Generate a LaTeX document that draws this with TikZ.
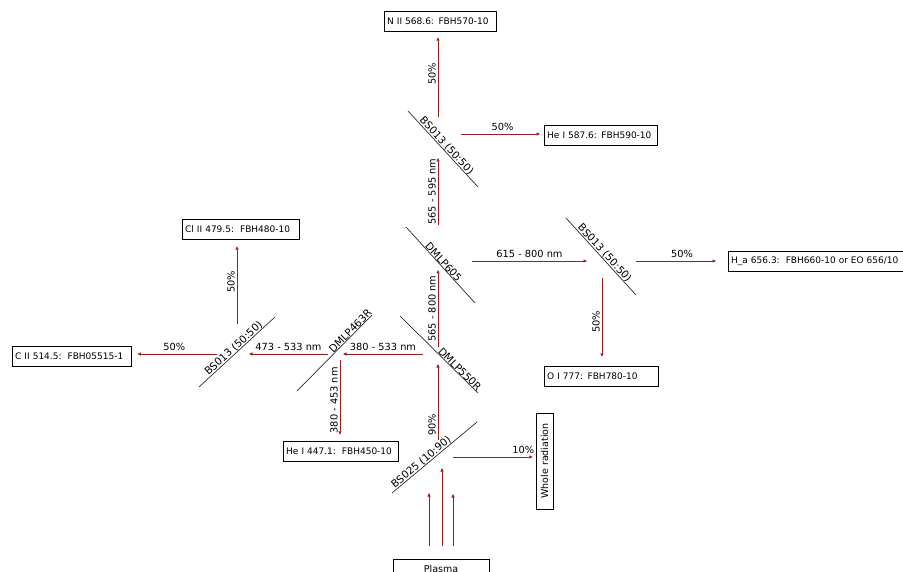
\documentclass[tikz,border=0pt]{standalone}
\usepackage{fontspec}
\setmainfont{DejaVu Sans}
\usetikzlibrary{arrows.meta, positioning}
\definecolor{raycol}{RGB}{150,30,30}
\definecolor{mirrorcol}{RGB}{45,45,45}

\begin{document}
\begin{tikzpicture}[x=1pt, y=-1pt,
        font=\fontsize{9.8}{12}\selectfont,
        filter/.style = {
            rectangle,
            draw,
            anchor=west,
            inner xsep=3pt,
            inner ysep=0pt,
            minimum height=20pt,
            align=left,
            font=\fontsize{9}{11}\selectfont,
            text width=#1
        },
        ray/.style = {
            ->,
            draw=raycol,
            line width=0.7pt,
            >={Triangle[length=3.5pt,width=3pt]}
        },
        mirror/.style = {draw=mirrorcol, line width=0.7pt},
        mlabel/.style = {sloped, above, inner sep=0pt, font=\fontsize{10.3}{12}\selectfont},
        hlabel/.style = {midway, above, inner sep=3pt},
        vlabel/.style = {midway, rotate=90, anchor=south, inner sep=2pt}]

        \useasboundingbox (0,0) rectangle (903,572);
        \clip (0,0) rectangle (903,572);

        % filters
        \node (n_ii) [filter=106pt] at (384,21) {N II 568.6: FBH570-10};
        \node (he_i_587) [filter=107pt] at (544,135) {He I 587.6: FBH590-10};
        \node (cl_ii) [filter=111pt] at (182,229) {Cl II 479.5:~~FBH480-10};
        \node (c_ii) [filter=113pt] at (12,356) {C II 514.5:~~FBH05515-1};
        \node (h_a) [filter=220pt] at (728,261) {H\_a 656.3:~~FBH660-10 or EO 656/10};
        \node (o_i) [filter=108pt] at (544,376) {O I 777: FBH780-10};
        \node (he_i_447) [filter=109pt] at (283,451) {He I 447.1:~~FBH450-10};
        \node (whole) [draw, rotate=90, minimum width=96pt, minimum height=17pt, inner sep=0pt, font=\fontsize{9.5}{11}\selectfont] at (544.5,461) {Whole radiation};
        \node (plasma) [draw, minimum width=96pt, minimum height=20pt, inner sep=0pt, font=\fontsize{9.5}{11}\selectfont] at (441,569) {Plasma};

        % mirrors
        \draw[mirror] (408,111) -- node[mlabel] {BS013 (50:50)} (478,187);
        \draw[mirror] (406,227) -- node[mlabel] {DMLP605} (475,303);
        \draw[mirror] (566,218) -- node[mlabel] {BS013 (50:50)} (636,295);
        \draw[mirror] (199,387) -- node[mlabel] {BS013 (50:50)} (275,317);
        \draw[mirror] (297,391) -- node[mlabel, pos=0.75] {DMLP463R} (372,315);
        \draw[mirror] (400,316) -- node[mlabel, pos=0.73] {DMLP550R} (478,393);
        \draw[mirror] (392,493) -- node[mlabel, pos=0.38] {BS025 (10:90)} (477,422);

        \coordinate (bs1_up) at (438,117);
        \coordinate (bs1_rt) at (461,134);
        \coordinate (bs1_in) at (438,158);
        \coordinate (dm605_up) at (438,225);
        \coordinate (dm605_rt) at (472,261);
        \coordinate (dm605_in) at (438,270);
        \coordinate (bs2_in) at (587,261);
        \coordinate (bs2_rt) at (636,261);
        \coordinate (bs2_dn) at (602,278);
        \coordinate (dm550_up) at (438,347);
        \coordinate (dm550_lt) at (423,354);
        \coordinate (dm550_in) at (438,364);
        \coordinate (dm463_in) at (343,354);
        \coordinate (dm463_lt) at (328,354);
        \coordinate (dm463_dn) at (340,360);
        \coordinate (bs3_in) at (249,354);
        \coordinate (bs3_lt) at (217,354);
        \coordinate (bs3_up) at (237,324);
        \coordinate (bs25_up) at (438,440);
        \coordinate (bs25_rt) at (453,457);
        \coordinate (bs25_in_a) at (429,493);
        \coordinate (bs25_in_b) at (442,468);
        \coordinate (bs25_in_c) at (453,494);

        % rays
        \draw[ray, shorten >=6pt] (bs1_up) -- node[vlabel] {50\%} (bs1_up |- n_ii.south);
        \draw[ray, shorten >=4pt] (bs1_rt) -- node[hlabel] {50\%} (bs1_rt -| he_i_587.west);
        \draw[ray] (dm605_up) -- node[vlabel] {565 - 595 nm} (bs1_in);
        \draw[ray] (dm605_rt) -- node[hlabel] {615 - 800 nm} (bs2_in);
        \draw[ray, shorten >=12pt] (bs2_rt) -- node[hlabel] {50\%} (bs2_rt -| h_a.west);
        \draw[ray, shorten >=9pt] (bs2_dn) -- node[vlabel] {50\%} (bs2_dn |- o_i.north);
        \draw[ray] (dm550_up) -- node[vlabel] {565 - 800 nm} (dm605_in);
        \draw[ray] (dm550_lt) -- node[hlabel] {380 - 533 nm} (dm463_in);
        \draw[ray, shorten >=6pt] (dm463_dn) -- node[vlabel] {380 - 453 nm} (dm463_dn |- he_i_447.north);
        \draw[ray] (dm463_lt) -- node[hlabel] {473 - 533 nm} (bs3_in);
        \draw[ray, shorten >=6pt] (bs3_lt) -- node[hlabel] {50\%} (bs3_lt -| c_ii.east);
        \draw[ray, shorten >=7pt] (bs3_up) -- node[vlabel] {50\%} (bs3_up |- cl_ii.south);
        \draw[ray] (bs25_up) -- node[vlabel, pos=0.2] {90\%} (dm550_in);
        \draw[ray, shorten >=3pt] (bs25_rt) -- node[hlabel, pos=0.85] {10\%} (bs25_rt -| whole.north);
        \draw[ray, shorten <=13pt] (plasma.north -| bs25_in_a) -- (bs25_in_a);
        \draw[ray, shorten <=13pt] (plasma.north -| bs25_in_b) -- (bs25_in_b);
        \draw[ray, shorten <=13pt] (plasma.north -| bs25_in_c) -- (bs25_in_c);
    \end{tikzpicture}
\end{document}
